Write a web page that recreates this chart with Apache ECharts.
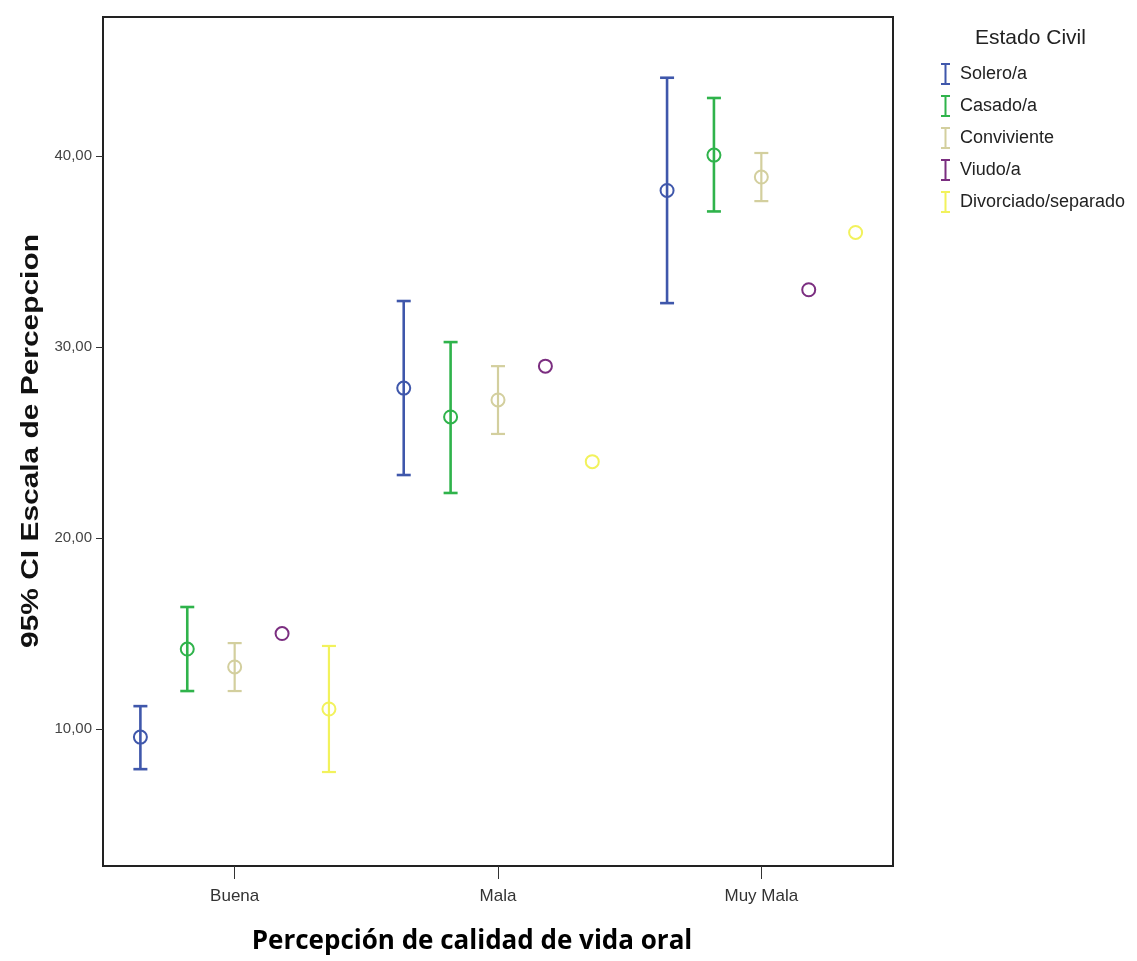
<!DOCTYPE html>
<html><head><meta charset="utf-8">
<script src="https://cdn.jsdelivr.net/npm/echarts@6/dist/echarts.min.js"></script>
<style>html,body{margin:0;padding:0;background:#fff}#c{width:1137px;height:961px}</style>
</head><body><div id="c"></div>
<script>
const categories = ['Buena', 'Mala', 'Muy Mala'];
const seriesNames = ['Solero/a', 'Casado/a', 'Conviviente', 'Viudo/a', 'Divorciado/separado'];
const seriesColors = ['#3f57ab', '#2fb34b', '#d3cf9e', '#7b2e80', '#f2f25c'];
// means per series for [Buena, Mala, Muy Mala]
const meanSolero = [9.58, 27.85, 38.2];
const meanCasado = [14.19, 26.34, 40.05];
const meanConviviente = [13.25, 27.23, 38.9];
const meanViudo = [15.0, 29.0, 33.0];
const meanDivorciado = [11.05, 24.0, 36.0];
// 95% CI lower bounds
const lowSolero = [7.9, 23.3, 32.3];
const lowCasado = [11.99, 22.36, 37.1];
const lowConviviente = [11.99, 25.45, 37.64];
const lowViudo = [null, null, null];
const lowDivorciado = [7.75, null, null];
// 95% CI upper bounds
const highSolero = [11.2, 32.41, 44.1];
const highCasado = [16.39, 30.26, 43.04];
const highConviviente = [14.5, 29.0, 40.16];
const highViudo = [null, null, null];
const highDivorciado = [14.35, null, null];
const yTicks = [10, 20, 30, 40];

const means = [meanSolero, meanCasado, meanConviviente, meanViudo, meanDivorciado];
const lows = [lowSolero, lowCasado, lowConviviente, lowViudo, lowDivorciado];
const highs = [highSolero, highCasado, highConviviente, highViudo, highDivorciado];
const offsets = [-0.358, -0.18, 0, 0.18, 0.358];
const lineWidths = [2.6, 2.6, 2.2, 2.2, 2.2];

const chart = echarts.init(document.getElementById('c'), null, {renderer: 'canvas'});

const series = seriesNames.map((name, s) => ({
  name: name,
  type: 'custom',
  itemStyle: {color: seriesColors[s]},
  data: categories.map((c, i) => [i, means[s][i]]),
  encode: {x: 0, y: 1},
  renderItem: function (params, api) {
    const i = params.dataIndex;
    const bw = api.size([1, 0])[0];
    const dx = offsets[s] * bw;
    const pm = api.coord([i, means[s][i]]);
    const x = pm[0] + dx;
    const children = [];
    const col = seriesColors[s];
    const lo = lows[s][i], hi = highs[s][i];
    if (lo != null && hi != null) {
      const pl = api.coord([i, lo]);
      const ph = api.coord([i, hi]);
      const cap = 7;
      const st = {stroke: col, lineWidth: lineWidths[s], fill: null};
      children.push({type: 'line', shape: {x1: x, y1: pl[1], x2: x, y2: ph[1]}, style: st});
      children.push({type: 'line', shape: {x1: x - cap, y1: pl[1], x2: x + cap, y2: pl[1]}, style: st});
      children.push({type: 'line', shape: {x1: x - cap, y1: ph[1], x2: x + cap, y2: ph[1]}, style: st});
    }
    children.push({type: 'circle', shape: {cx: x, cy: pm[1], r: 6.5}, style: {stroke: col, lineWidth: 2, fill: 'rgba(255,255,255,0)'}});
    return {type: 'group', children: children};
  }
}));

chart.setOption({
  backgroundColor: '#fff',
  animation: false,
  grid: {left: 103, right: 244, top: 17, bottom: 95, show: true, borderColor: '#222', borderWidth: 2, backgroundColor: 'transparent'},
  xAxis: {
    type: 'category',
    data: categories,
    boundaryGap: true,
    axisLine: {show: true, lineStyle: {color: '#222', width: 2}},
    axisTick: {show: true, alignWithLabel: true, length: 13, lineStyle: {color: '#333', width: 1}},
    axisLabel: {fontFamily: 'Arial, Liberation Sans', fontSize: 17, color: '#333', margin: 22}
  },
  yAxis: {
    type: 'value',
    min: 2.83,
    max: 47.28,
    splitLine: {show: false},
    axisLine: {show: true, lineStyle: {color: '#222', width: 2}},
    axisTick: {show: true, length: 7, customValues: yTicks, lineStyle: {color: '#333', width: 1}},
    axisLabel: {customValues: yTicks, fontFamily: 'Arial, Liberation Sans', fontSize: 15, color: '#444', margin: 11,
      formatter: v => v.toFixed(2).replace('.', ',')}
  },
  legend: {
    orient: 'vertical',
    left: 936,
    top: 58,
    itemWidth: 9,
    itemHeight: 22,
    itemGap: 10,
    icon: 'path://M0,0H9V2H5.5V20H9V22H0V20H3.5V2H0Z',
    textStyle: {fontFamily: 'Arial, Liberation Sans', fontSize: 18, color: '#222', padding: [0, 0, 0, 5]},
    data: seriesNames
  },
  graphic: [
    {type: 'text', left: 975, top: 28, style: {text: 'Estado Civil', fontFamily: 'Arial, Liberation Sans', fontSize: 21, fill: '#222'}},
    {type: 'text', x: 32, y: 441, rotation: Math.PI / 2, scaleX: 1.3,
      style: {text: '95% CI Escala de Percepcion', fontFamily: 'Arial, Liberation Sans', fontWeight: 'bold', fontSize: 23, fill: '#111', align: 'center', verticalAlign: 'middle'}},
    {type: 'text', x: 472, y: 942,
      style: {text: 'Percepción de calidad de vida oral', fontFamily: 'Open Sans, Lato', fontWeight: 'bold', fontSize: 26, fill: '#000', align: 'center', verticalAlign: 'middle'}}
  ],
  series: series
});
</script>
</body></html>
